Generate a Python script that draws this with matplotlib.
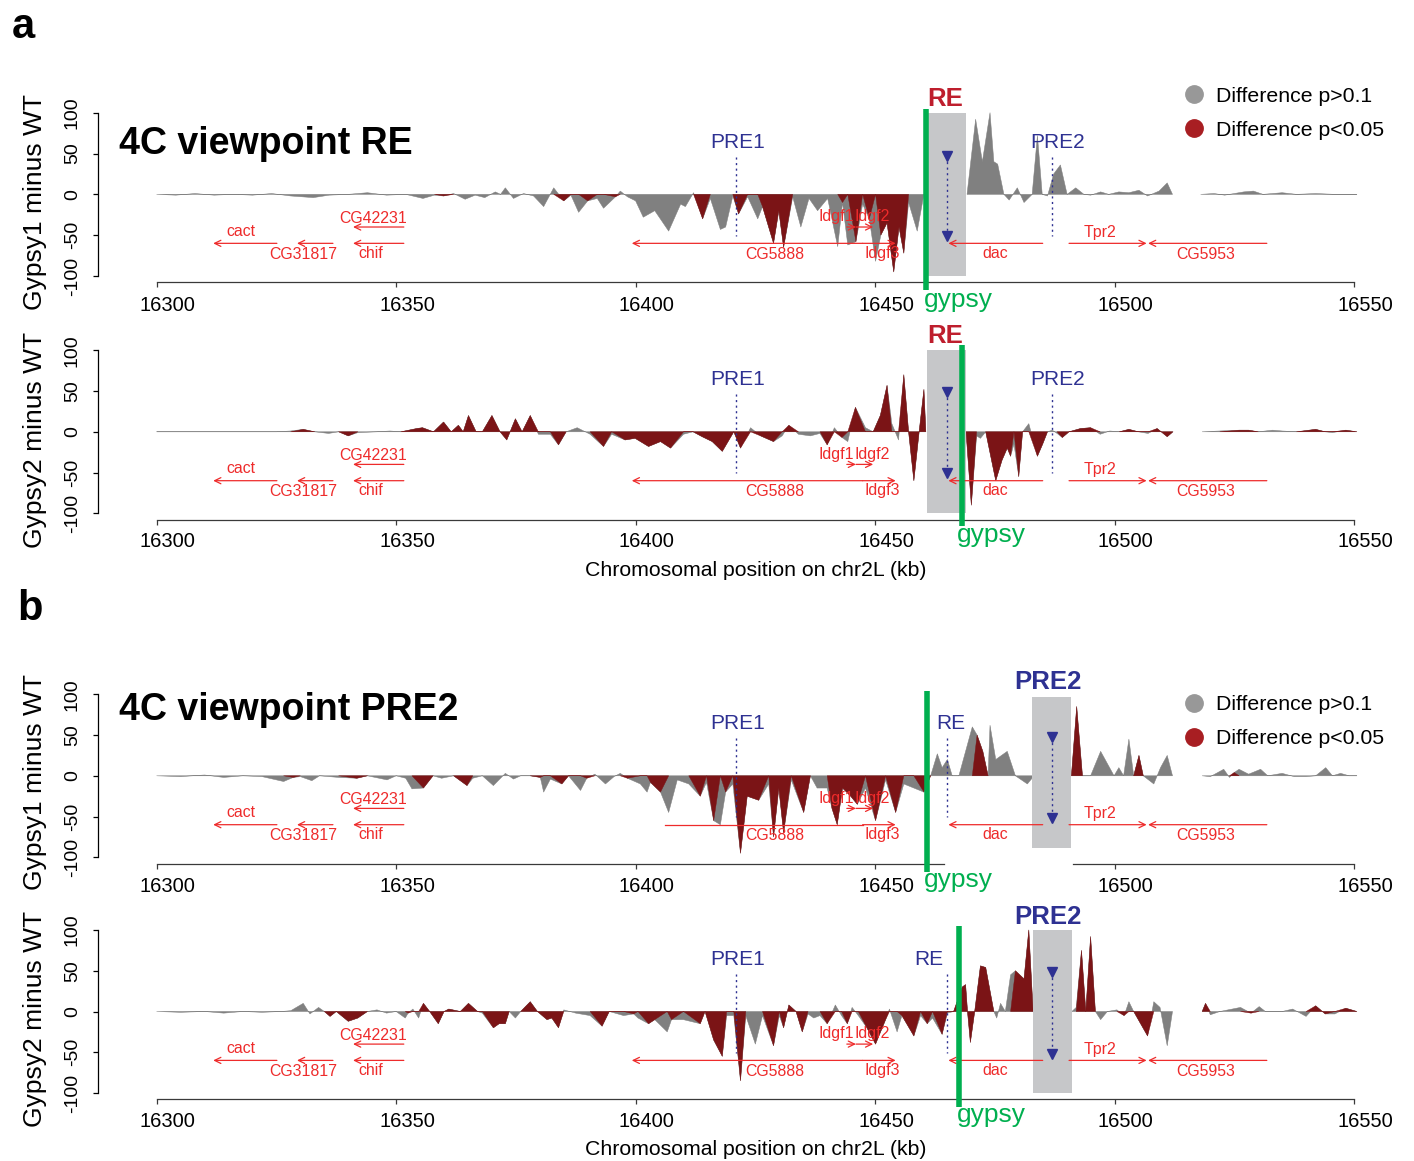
import numpy as np
import matplotlib
matplotlib.use('Agg')
import matplotlib.pyplot as plt
from matplotlib.patches import Rectangle
from matplotlib.lines import Line2D

plt.rcParams['font.family'] = ['Liberation Sans', 'DejaVu Sans']
nan = float('nan')

# ---------------- data (kb, difference value) ----------------
# Panel a, Gypsy1 minus WT (viewpoint RE)
pos_a1 = [16300, 16304, 16308, 16312, 16316, 16320, 16324, 16328, 16332.7, 16336,
          16340, 16344, 16348, 16352, 16355.6, 16358, 16359.9, 16362, 16364.4, 16366.5,
          16368.5, 16370.7, 16371.8, 16372.8, 16374.5, 16376.6, 16378.7, 16380.8, 16382.9, 16385,
          16386.5, 16388.1, 16390, 16392, 16393.3, 16395.8, 16396.8, 16398.3, 16400, 16401.6,
          16404, 16406.9, 16409.4, 16410.4, 16412.1, 16414, 16415.6, 16417.7, 16418.8, 16420.3,
          16421.5, 16423.4, 16425.5, 16426.5, 16428.8, 16429.9, 16430.9, 16432.8, 16434.5, 16436.2,
          16438, 16440.1, 16442.2, 16443.2, 16444.3, 16446, 16447.4, 16448.8, 16450.1, 16451.2,
          16452.5, 16453.9, 16455, 16456, 16457, 16458.8, 16460.2, 16465, 16469.2, 16471,
          16472.4, 16474, 16474.8, 16475.6, 16476.9, 16478, 16479.7, 16481.1, 16482.8, 16483.9,
          16484.9, 16486, 16487.3, 16488.7, 16490.1, 16491.9, 16493.6, 16495, 16497.1, 16498.8,
          16500.9, 16503, 16505.1, 16506.9, 16509.3, 16511, 16512.1, 16515, 16518, 16520.8,
          16523, 16527, 16529, 16531, 16535, 16538, 16542, 16546, 16550.6]
val_a1 = [0, -1, 1, -1, 0, -1, 1, -2, -4, -1,
          0, 2, -1, 0, -5, -1, -2, 1, -6, -1,
          -4, 3, 0, 8, -5, 1, -2, -15, 8, -8,
          -1, -22, -8, -5, -17, -3, 4, -3, -8, -28,
          -20, -45, -12, -15, 2, -30, -5, -43, -40, -2,
          -24, -3, -30, -15, -60, -20, -65, -3, -40, -5,
          -20, -5, -64, -10, -62, -58, -12, -30, -82, -50,
          -35, -95, -40, -72, -10, -45, 0, nan, 0, 92,
          40, 100, 40, 37, 0, -7, 8, -10, 0, 72,
          0, -2, 25, 36, 0, 8, 0, -1, 3, 0,
          3, 2, 5, -2, 4, 14, 0, nan, 0, 1,
          -1, 3, 4, 0, 2, 0, 1, 0, 0]
sig_a1 = [16359.9, 16385, 16390, 16395.8, 16414, 16421.5, 16426.5, 16428.8, 16429.9,
          16430.9, 16443.2, 16446, 16448.8, 16451.2, 16452.5, 16453.9, 16455, 16456]

# Panel a, Gypsy2 minus WT (viewpoint RE)
pos_a2 = [16300, 16305, 16310, 16315, 16320, 16325, 16328, 16330.6, 16333, 16335.9,
          16338, 16340, 16342, 16346, 16348.7, 16351, 16354.3, 16355.5, 16357.8, 16359.9,
          16361.5, 16363, 16364, 16365.1, 16366.7, 16368, 16370, 16371.7, 16373.1, 16374.9,
          16376.3, 16378, 16379.7, 16382.2, 16383.9, 16385.5, 16387.8, 16390.5, 16393.3, 16395,
          16397.8, 16399.9, 16402.7, 16405.2, 16407.3, 16410, 16412, 16413.9, 16416, 16418.1,
          16420.5, 16421.9, 16424, 16426.1, 16428.8, 16430.6, 16432, 16434, 16436.5, 16438.5,
          16440, 16441.5, 16443.1, 16444.3, 16445.9, 16448, 16449.6, 16451.1, 16452.5, 16453.5,
          16454.9, 16456, 16457, 16458.1, 16459.2, 16460.2, 16460.6, 16465, 16469, 16470.1,
          16471.2, 16472, 16473.1, 16475.2, 16476.5, 16477.6, 16478.3, 16479, 16480, 16480.8,
          16482.1, 16483.9, 16485, 16486, 16487, 16488, 16489.1, 16490.5, 16492.9, 16495,
          16497, 16499, 16501, 16503, 16505, 16507, 16508.9, 16511, 16512.2, 16515,
          16518.3, 16522, 16526, 16528, 16530, 16533, 16535, 16538, 16542, 16544,
          16545.5, 16548.3, 16550.6]
val_a2 = [0, 0, 0, 0, 0, 0, 1, 3, 0, -2,
          0, -5, -1, 0, 1, 0, 4, 5, 0, 12,
          0, 8, 0, 20, 0, 0, 20, 0, -10, 16,
          0, 20, -3, -3, -16, 0, 5, -3, -18, -3,
          -10, -8, -18, -12, -20, -3, 0, -6, -12, -24,
          0, -20, 5, -5, -12, -5, 8, -3, -5, -2,
          -16, 5, -7, -12, 30, 5, 0, 20, 57, 10,
          -10, 70, 0, -60, 0, 52, 0, nan, 0, -90,
          -5, -8, 0, -60, -35, -20, -30, -15, -55, 0,
          10, -30, -15, 0, 2, -2, -7, 0, 4, 5,
          -3, 1, 0, 3, 0, -2, 4, -6, 0, nan,
          0, 1, 2, 2, 0, 2, 1, 0, 3, 0,
          -1, 2, 0]
sig_a2 = [16330.6, 16340, 16354.3, 16355.5, 16359.9, 16363, 16365.1, 16370, 16373.1,
          16374.9, 16378, 16383.9, 16393.3, 16397.8, 16399.9, 16402.7, 16405.2, 16407.3,
          16413.9, 16416, 16418.1, 16421.9, 16426.1, 16428.8, 16432, 16440, 16443.1, 16445.9,
          16451.1, 16452.5, 16456, 16458.1, 16460.2, 16470.1, 16475.2, 16476.5, 16477.6,
          16478.3, 16480, 16483.9, 16485, 16489.1, 16492.9, 16495, 16503, 16508.9, 16511,
          16526, 16528, 16542, 16548.3]

# Panel b, Gypsy1 minus WT (viewpoint PRE2)
pos_b1 = [16300, 16305, 16310, 16314, 16318, 16322, 16326.5, 16328.5, 16330, 16332.4,
          16334, 16338, 16341.8, 16344, 16348.1, 16350, 16352, 16353.3, 16355.7, 16357.7,
          16359.5, 16362, 16364.8, 16366, 16368, 16370.3, 16372.8, 16374.5, 16376, 16378,
          16380.1, 16380.8, 16382.2, 16384.6, 16386, 16388.5, 16389.8, 16391.5, 16393.7, 16395.5,
          16396.8, 16398.3, 16401, 16402.4, 16403.1, 16405.2, 16406.9, 16408.7, 16411.1, 16413.5,
          16414.8, 16416.3, 16417.7, 16418.8, 16420.3, 16421.9, 16423.3, 16425.7, 16427.8, 16428.8,
          16429.9, 16430.9, 16432.5, 16435.1, 16436.5, 16437.9, 16440, 16441, 16442.1, 16443.2,
          16444.9, 16446.3, 16448, 16450.1, 16452.2, 16454.3, 16456, 16458.1, 16460.2, 16461.6,
          16463, 16464, 16465.1, 16466.1, 16467.5, 16470.3, 16471.3, 16472.5, 16473.6, 16474,
          16475.2, 16477.6, 16479.3, 16481.8, 16483.2, 16487, 16491, 16492.1, 16493.3, 16495,
          16497.1, 16499.9, 16500.9, 16501.9, 16503, 16504, 16505.1, 16506, 16508.2, 16509.6,
          16511, 16512.1, 16515, 16518.3, 16520, 16522.8, 16524, 16525, 16526, 16528,
          16530.5, 16532, 16535, 16537.5, 16540, 16542, 16544.1, 16545.5, 16547.2, 16549,
          16550.6]
val_b1 = [0, -1, 1, -2, 0, -1, -7, -2, -1, -6,
          0, -2, -3, 0, -5, 0, -3, -16, -15, 0,
          -3, 0, -12, -3, 0, -12, 3, -4, 0, 0,
          -2, -20, -4, -10, 0, -18, -3, 2, -10, -1,
          3, -3, -10, -20, -8, -20, -45, -5, -10, -25,
          -8, -55, -60, -20, -10, -95, -25, -30, -10, -75,
          -15, -70, -5, -45, 0, -15, -15, -40, -60, -15,
          -25, -35, -15, -55, -5, -45, -10, -15, -20, 0,
          27, 10, 20, 0, 0, 60, 50, 30, 0, 62,
          20, 30, 0, -10, 0, nan, 0, 85, 0, 0,
          30, 0, 10, 0, 45, 0, 25, 0, -10, 10,
          25, 0, nan, 0, -1, 8, -2, 4, 8, 2,
          8, 0, 3, -1, -1, 0, 10, 0, 3, 0,
          0]
sig_b1 = [16328.5, 16341.8, 16355.7, 16364.8, 16380.1, 16384.6, 16389.8, 16398.3,
          16403.1, 16405.2, 16413.5, 16416.3, 16418.8, 16421.9, 16423.3, 16425.7, 16428.8,
          16429.9, 16430.9, 16435.1, 16441, 16442.1, 16443.2, 16444.9, 16446.3, 16450.1,
          16454.3, 16460.2, 16471.3, 16472.5, 16492.1, 16505.1, 16525]

# Panel b, Gypsy2 minus WT (viewpoint PRE2)
pos_b2 = [16300, 16305, 16310, 16314, 16318, 16322, 16326, 16328, 16330.6, 16332,
          16333.8, 16335, 16336.2, 16337.5, 16340, 16342, 16344, 16346, 16348, 16350,
          16351.9, 16352.5, 16353.5, 16354.7, 16355.7, 16357, 16358.8, 16360, 16361, 16363.4,
          16365.1, 16367, 16368, 16370.3, 16371.5, 16372.8, 16373.6, 16374.9, 16376, 16378,
          16379.5, 16381.5, 16382.5, 16383.9, 16385, 16387.5, 16390.5, 16393, 16394.5, 16397.5,
          16399.6, 16400.5, 16402.7, 16404, 16406.6, 16407.5, 16410, 16413.5, 16414.5, 16416.3,
          16418.1, 16419, 16420.5, 16421.9, 16423, 16425, 16426.5, 16428.8, 16430, 16430.9,
          16432, 16433.5, 16434.8, 16436, 16437.2, 16438.5, 16440, 16441.7, 16443, 16444.2,
          16445.2, 16446.5, 16448.3, 16450.1, 16452.2, 16453, 16454.6, 16455.6, 16458.1, 16459.5,
          16460.9, 16462, 16464, 16465.1, 16466.4, 16468.2, 16468.9, 16469.3, 16469.9, 16470.8,
          16472, 16473.1, 16474.8, 16475.4, 16476.2, 16477.2, 16478.3, 16479.3, 16481.1, 16482.1,
          16483, 16487, 16491.1, 16492, 16493.1, 16494, 16495, 16496, 16497.1, 16498.5,
          16500.5, 16502, 16503, 16504, 16506.9, 16508.2, 16509.5, 16511, 16512.1, 16515,
          16518.3, 16519, 16520, 16522, 16526.3, 16528.5, 16530.2, 16531.5, 16535, 16537.2,
          16540, 16542, 16544, 16546, 16548.3, 16550.6]
val_b2 = [0, -1, 0, -2, 0, -1, 0, 1, 10, -3,
          5, 0, -6, 0, -12, -8, 0, 2, -2, 0,
          -8, -2, 3, -8, 10, 0, -15, 0, 3, 0,
          10, 0, -2, -20, -15, -15, 0, -8, 0, 12,
          0, -10, -8, -20, 2, -2, -5, -18, 0, -5,
          -3, -8, -15, -10, -25, -10, -10, -15, 0, -35,
          -55, -5, -5, -85, -5, -40, -5, -42, -5, -20,
          8, 0, -25, -3, -8, -5, -15, 8, -5, -15,
          5, -5, -20, -40, -10, 3, -25, -5, -30, -5,
          -15, -8, -28, -2, 0, 30, 33, 0, -38, 0,
          56, 54, 0, -8, 10, 0, 45, 50, 40, 100,
          0, nan, 0, 5, 75, 0, 92, 0, -10, 0,
          2, -5, 12, 0, -30, 12, 5, -42, 0, nan,
          0, 10, -4, 0, 5, -2, 6, 0, 0, 3,
          -6, 7, -3, -3, 4, 0]
sig_b2 = [16336.2, 16340, 16342, 16352.5, 16355.7, 16358.8, 16361, 16365.1, 16370.3,
          16371.5, 16372.8, 16378, 16381.5, 16382.5, 16383.9, 16393, 16399.6, 16402.7, 16404,
          16407.5, 16413.5, 16416.3, 16418.1, 16421.9, 16428.8, 16430.9, 16432, 16434.8,
          16440, 16444.2, 16448.3, 16450.1, 16452.2, 16455.6, 16458.1, 16460.9, 16464,
          16468.2, 16468.9, 16469.9, 16472, 16473.1, 16479.3, 16481.1, 16482.1, 16493.1,
          16495, 16502, 16506.9, 16519, 16528.5, 16542, 16544, 16548.3]

# Genes: name, tail (start of arrow), head (kb), track level, label x, label y
gene_names = ['cact', 'CG31817', 'chif', 'CG42231', 'CG5888', 'Idgf1', 'Idgf2', 'Idgf3',
              'dac', 'Tpr2', 'CG5953']
gene_tail = [16325.1, 16336.8, 16351.6, 16351.6, 16447.4, 16444.1, 16446.0, 16447.4,
             16485.0, 16490.5, 16531.8]
gene_head = [16311.8, 16329.3, 16341.0, 16341.0, 16399.2, 16446.0, 16449.6, 16454.3,
             16465.3, 16506.7, 16507.0]
gene_level = [-60, -60, -60, -40, -60, -40, -40, -60, -60, -60, -60]
gene_lab_x = [16317.5, 16330.7, 16344.6, 16345.2, 16429.1, 16441.9, 16449.4, 16451.6,
              16475.1, 16497.0, 16519.0]
gene_lab_y = [-51, -79, -78, -35, -79, -33, -33, -78, -78, -52, -79]

xticks = [16300, 16350, 16400, 16450, 16500, 16550]
yticks = [-100, -50, 0, 50, 100]
legend_labels = ['Difference p>0.1', 'Difference p<0.05']

# ---------------- style ----------------
GREY = '#808080'
DRED = '#7B1416'
LGREY = '#989898'
LRED = '#A81E22'
BOXG = '#C6C7C9'
GREEN = '#00AF4F'
NAVY = '#2E3192'
GENE = '#EE2B2B'
REBOLD = '#BE1E2D'

W, H = 1414, 1161
fig = plt.figure(figsize=(W / 100, H / 100), dpi=100)


def fx(x):
    return x / W


def fy(y):
    return 1 - y / H


X0_PX, X1_PX = 156.7, 1354.0
YAX_PX = 98.3

panels = [
    dict(pos=pos_a1, val=val_a1, sig=sig_a1, y100=112.7, ym100=276.0, axis=282.0,
         ylabel='Gypsy1 minus WT', ylab_y=201.7, tick_base=29,
         green=16460.6, green_y=(104.5, -117.0), gyp_x=16460.2, gyp_base=25,
         box=(16461.1, 16468.9, -100, 100), box_lab='RE', box_col=REBOLD, box_lab_x=16464.7,
         box_lab_y=108, arrow_x=16465.0, arrow_y=(47, -51),
         marks=[(16420.9, 16421.2, 'PRE1'), (16487.0, 16488.2, 'PRE2')]),
    dict(pos=pos_a2, val=val_a2, sig=sig_a2, y100=350.3, ym100=513.3, axis=520.3,
         ylabel='Gypsy2 minus WT', ylab_y=440, tick_base=26.4,
         green=16468.1, green_y=(107, -115), gyp_x=16467.1, gyp_base=21.7,
         box=(16460.8, 16468.9, -100, 100), box_lab='RE', box_col=REBOLD, box_lab_x=16464.7,
         box_lab_y=109, arrow_x=16465.0, arrow_y=(49, -51),
         marks=[(16420.9, 16421.2, 'PRE1'), (16487.0, 16488.1, 'PRE2')]),
    dict(pos=pos_b1, val=val_b1, sig=sig_b1, y100=694.3, ym100=857.3, axis=864.0,
         ylabel='Gypsy1 minus WT', ylab_y=782.5, tick_base=27.7,
         green=16460.8, green_y=(104, -117.8), gyp_x=16460.1, gyp_base=23,
         box=(16482.8, 16490.9, -89, 97), box_lab='PRE2', box_col=NAVY, box_lab_x=16486.0,
         box_lab_y=107, arrow_x=16487.0, arrow_y=(48, -52),
         marks=[(16420.9, 16421.2, 'PRE1'), (16465.0, 16465.9, 'RE')],
         axis_gap=(16464.3, 16491.3), cg5888_tail=16406.1),
    dict(pos=pos_b2, val=val_b2, sig=sig_b2, y100=930.0, ym100=1093.0, axis=1099.3,
         ylabel='Gypsy2 minus WT', ylab_y=1019, tick_base=27.4,
         green=16467.5, green_y=(105, -116.6), gyp_x=16467.0, gyp_base=22.7,
         box=(16483.0, 16491.1, -100, 100), box_lab='PRE2', box_col=NAVY, box_lab_x=16486.0,
         box_lab_y=107.6, arrow_x=16487.0, arrow_y=(48, -52),
         marks=[(16420.9, 16421.2, 'PRE1'), (16465.0, 16461.3, 'RE')]),
]

for cfg in panels:
    y100, ym100, yax = cfg['y100'], cfg['ym100'], cfg['axis']
    scale = (ym100 - y100) / 200.0
    ylo = -100 - (yax - ym100) / scale
    ax = fig.add_axes([fx(X0_PX), fy(yax), (X1_PX - X0_PX) / W, (yax - y100) / H])
    ax.set_xlim(16300, 16550)
    ax.set_ylim(ylo, 100)
    ax.patch.set_alpha(0)

    x = np.array(cfg['pos'], float)
    v = np.array(cfg['val'], float)
    assert len(x) == len(v)
    sig = np.isin(x, np.array(cfg['sig'], float))
    near = sig.copy()
    near[1:] |= sig[:-1]
    near[:-1] |= sig[1:]
    vr = np.where(sig, v, np.where(near & ~np.isnan(v), 0.0, np.nan))
    ax.fill_between(x, 0, v, facecolor=GREY, edgecolor=GREY, lw=0.35, clip_on=False, zorder=2)
    ax.fill_between(x, 0, vr, facecolor=DRED, edgecolor=DRED, lw=0.3, clip_on=False, zorder=3)

    # spines / ticks
    for s in ['top', 'right']:
        ax.spines[s].set_visible(False)
    ax.spines['left'].set_position(('outward', (X0_PX - YAX_PX) * 0.72))
    ax.spines['left'].set_bounds(-100, 100)
    ax.spines['left'].set_linewidth(0.9)
    ax.spines['bottom'].set_bounds(16300, 16550)
    ax.spines['bottom'].set_linewidth(0.9)
    ax.spines['bottom'].set_color('#3a3a3a')
    ax.set_yticks(yticks)
    ax.set_yticklabels([str(t) for t in yticks])
    ax.tick_params(axis='y', length=3.6, width=0.9, pad=9, labelsize=14, labelrotation=90)
    for t in ax.get_yticklabels():
        t.set_va('center')
    ax.set_xticks(xticks)
    ax.set_xticklabels([])
    ax.tick_params(axis='x', length=3.6, width=0.9, color='#3a3a3a')
    if 'axis_gap' in cfg:
        ax.spines['bottom'].set_visible(False)
        g0, g1 = cfg['axis_gap']
        for a, b in [(16300, g0), (g1, 16550)]:
            ax.plot([a, b], [ylo, ylo], color='#3a3a3a', lw=0.9, clip_on=False, zorder=1)
    for t in xticks:
        ax.annotate(str(t), xy=(t, ylo), xycoords='data', xytext=(11, -cfg['tick_base']),
                    textcoords='offset pixels', ha='center', va='baseline', fontsize=14.5,
                    annotation_clip=False)

    # viewpoint box
    bx0, bx1, by0, by1 = cfg['box']
    ax.add_patch(Rectangle((bx0, by0), bx1 - bx0, by1 - by0, facecolor=BOXG,
                           edgecolor='none', zorder=4, clip_on=False))
    ax.text(cfg['box_lab_x'], cfg['box_lab_y'], cfg['box_lab'], ha='center', va='baseline',
            fontsize=18.5, fontweight='bold', color=cfg['box_col'], zorder=8)
    axx = cfg['arrow_x']
    ya, yb = cfg['arrow_y']
    ax.plot([axx, axx], [ya, yb], color=NAVY, lw=1, ls=(0, (1.5, 2.5)), zorder=7)
    ax.plot([axx, axx], [ya, yb], ls='none', marker='v', ms=7, color=NAVY, zorder=7)

    # PRE / RE marks
    for lx, tx, name in cfg['marks']:
        ax.plot([lx, lx], [46, -51], color=NAVY, lw=1, ls=(0, (1.5, 2.5)), zorder=7)
        ax.text(tx, 57, name, ha='center', va='baseline', fontsize=15, color=NAVY, zorder=8)

    # genes
    for i, name in enumerate(gene_names):
        tail, head = gene_tail[i], gene_head[i]
        lev = gene_level[i]
        if name == 'CG5888' and 'cg5888_tail' in cfg:
            ax.plot([tail, cfg['cg5888_tail']], [lev, lev], color=GENE, lw=0.9, zorder=6)
        else:
            ax.annotate('', xy=(head, lev), xytext=(tail, lev),
                        arrowprops=dict(arrowstyle='->,head_length=0.45,head_width=0.22',
                                        color=GENE, lw=0.9, shrinkA=0, shrinkB=0,
                                        mutation_scale=10), zorder=6, annotation_clip=False)
        ax.text(gene_lab_x[i], gene_lab_y[i], name, ha='center', va='baseline',
                fontsize=11.4, color=GENE, zorder=8)

    # gypsy insertion
    g = cfg['green']
    gy0, gy1 = cfg['green_y']
    ax.plot([g, g], [gy0, gy1], color=GREEN, lw=4, clip_on=False, zorder=9,
            solid_capstyle='butt')
    ax.annotate('gypsy', xy=(cfg['gyp_x'], ylo), xycoords='data',
                xytext=(0, -cfg['gyp_base']), textcoords='offset pixels', ha='left',
                va='baseline', fontsize=19, color=GREEN, annotation_clip=False, zorder=9)

    # y label
    fig.text(fx(35), fy(cfg['ylab_y']), cfg['ylabel'], rotation=90, ha='center',
             va='center', fontsize=19)

# titles, panel letters, legends, x labels
fig.text(fx(12), fy(38), 'a', fontsize=30, fontweight='bold', ha='left', va='baseline')
fig.text(fx(17), fy(620), 'b', fontsize=30, fontweight='bold', ha='left', va='baseline')
fig.text(fx(119.3), fy(154), '4C viewpoint RE', fontsize=27, fontweight='bold',
         ha='left', va='baseline')
fig.text(fx(119.3), fy(720), '4C viewpoint PRE2', fontsize=27, fontweight='bold',
         ha='left', va='baseline')
for xl_base in [575.5, 1154.6]:
    fig.text(fx(755.7), fy(xl_base), 'Chromosomal position on chr2L (kb)', fontsize=15.3,
             ha='center', va='baseline')
for cy in [(94, 128), (702.7, 736.7)]:
    for yy, col, lab in zip(cy, [LGREY, LRED], legend_labels):
        fig.add_artist(Line2D([fx(1194)], [fy(yy)], marker='o', ms=12.5, color=col,
                              ls='none', transform=fig.transFigure))
        fig.text(fx(1216), fy(yy + 7.5), lab, fontsize=15.3, ha='left', va='baseline')

fig.savefig('out.png', dpi=100)
